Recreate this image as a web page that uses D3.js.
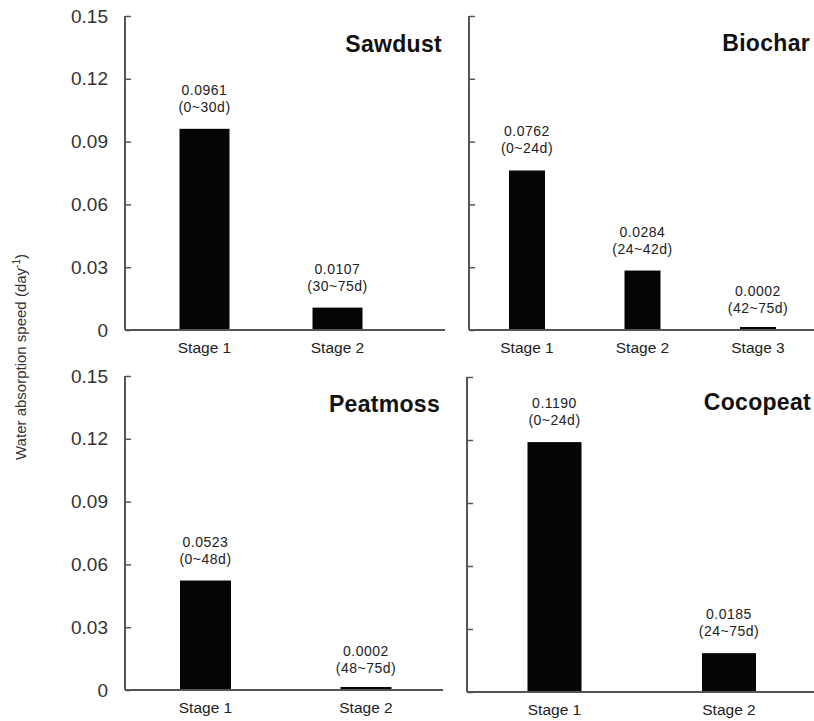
<!DOCTYPE html>
<html><head><meta charset="utf-8">
<script src="https://cdn.jsdelivr.net/npm/d3@7/dist/d3.min.js"></script>
<style>
body{margin:0;background:#fff;}
text{font-family:Arial,"Liberation Sans",sans-serif;}
</style></head>
<body><svg id="c" width="814" height="721"></svg>
<script>
// ---- data ----
const panelNames = ["Sawdust", "Biochar", "Peatmoss", "Cocopeat"];
const sawdustStages = ["Stage 1", "Stage 2"];
const sawdustValues = [0.0961, 0.0107];
const sawdustPeriods = ["(0~30d)", "(30~75d)"];
const biocharStages = ["Stage 1", "Stage 2", "Stage 3"];
const biocharValues = [0.0762, 0.0284, 0.0002];
const biocharPeriods = ["(0~24d)", "(24~42d)", "(42~75d)"];
const peatmossStages = ["Stage 1", "Stage 2"];
const peatmossValues = [0.0523, 0.0002];
const peatmossPeriods = ["(0~48d)", "(48~75d)"];
const cocopeatStages = ["Stage 1", "Stage 2"];
const cocopeatValues = [0.1190, 0.0185];
const cocopeatPeriods = ["(0~24d)", "(24~75d)"];
const yTicks = [0, 0.03, 0.06, 0.09, 0.12, 0.15];
const yTitle = "Water absorption speed (day";

// ---- layout ----
const layout = [
  {axisX:125, right:445, y0:330, y1:16, c:[204.5,337.5], bw:50, titleX:442, titleY:52, labels:true},
  {axisX:469, right:814, y0:330, y1:16, c:[527,758], bw:36, titleX:810, titleY:51, labels:false},
  {axisX:125, right:443, y0:690, y1:376, c:[205.5,366], bw:51, titleX:440, titleY:412, labels:true},
  {axisX:467, right:814, y0:692, y1:377, c:[554.5,729], bw:54, titleX:811, titleY:410, labels:false}
];
const panels = [
  {stages:sawdustStages, values:sawdustValues, periods:sawdustPeriods},
  {stages:biocharStages, values:biocharValues, periods:biocharPeriods},
  {stages:peatmossStages, values:peatmossValues, periods:peatmossPeriods},
  {stages:cocopeatStages, values:cocopeatValues, periods:cocopeatPeriods}
];

const svg = d3.select("#c");
const axisColor = "#555";

panels.forEach((p, i) => {
  const L = layout[i];
  const g = svg.append("g");
  const y = d3.scaleLinear().domain([0, 0.15]).range([L.y0, L.y1]);
  const x = d3.scalePoint().domain(p.stages).range(L.c);

  // bars
  g.selectAll("rect.bar").data(p.values).enter().append("rect")
    .attr("x", (d, k) => x(p.stages[k]) - L.bw / 2)
    .attr("width", L.bw)
    .attr("y", d => Math.min(y(d), L.y0 - 3))
    .attr("height", d => Math.max(3, L.y0 - y(d)))
    .attr("fill", "#050505");

  // y axis
  const ya = d3.axisRight(y).tickValues(yTicks).tickSize(6).tickFormat("");
  const yg = g.append("g").attr("transform", `translate(${L.axisX},0)`).call(ya);
  yg.select(".domain").attr("stroke", axisColor).attr("stroke-width", 2).attr("d", `M0,${L.y1}V${L.y0}`);
  yg.selectAll(".tick line").attr("stroke", axisColor).attr("stroke-width", 1.5);
  if (L.labels) {
    g.selectAll("text.yt").data(yTicks).enter().append("text")
      .attr("x", L.axisX - 17).attr("y", d => y(d)).attr("dy", "0.35em")
      .attr("text-anchor", "end").attr("font-size", 19).attr("fill", "#333")
      .text(d => d === 0 ? "0" : d3.format(".2f")(d));
  }

  // x axis line
  g.append("line").attr("x1", L.axisX).attr("x2", L.right).attr("y1", L.y0).attr("y2", L.y0)
    .attr("stroke", axisColor).attr("stroke-width", 2);

  // stage labels
  g.selectAll("text.st").data(p.stages).enter().append("text")
    .attr("x", d => x(d)).attr("y", L.y0 + 23)
    .attr("text-anchor", "middle").attr("font-size", 15.5).attr("fill", "#222")
    .text(d => d);

  // value labels
  p.values.forEach((v, k) => {
    const cx = x(p.stages[k]);
    const by = y(v) - 17;
    g.append("text").attr("x", cx).attr("y", by - 17).attr("text-anchor", "middle")
      .attr("font-size", 14).attr("letter-spacing", 0.5).attr("fill", "#222").text(v.toFixed(4));
    g.append("text").attr("x", cx).attr("y", by).attr("text-anchor", "middle")
      .attr("font-size", 14).attr("letter-spacing", 0.5).attr("fill", "#222").text(p.periods[k]);
  });

  // title
  g.append("text").attr("x", L.titleX).attr("y", L.titleY).attr("text-anchor", "end")
    .attr("font-size", 23).attr("font-weight", "bold").attr("letter-spacing", 0.3).attr("fill", "#111")
    .text(panelNames[i]);
});

// y axis title
const yt = svg.append("text").attr("transform", "translate(26,357) rotate(-90)")
  .attr("text-anchor", "middle").attr("font-size", 15).attr("fill", "#333");
yt.append("tspan").text(yTitle);
yt.append("tspan").attr("dy", -6).attr("font-size", 10).text("-1");
yt.append("tspan").attr("dy", 6).text(")");
</script></body></html>
